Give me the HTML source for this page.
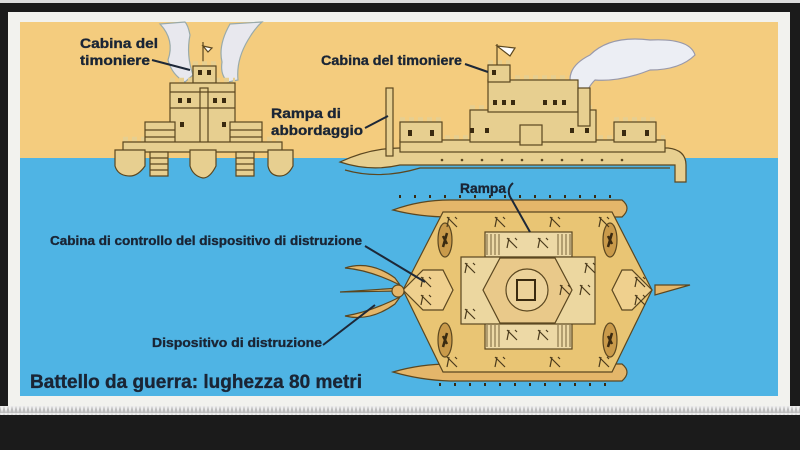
<!DOCTYPE html>
<html><head><meta charset="utf-8"><style>
html,body{margin:0;padding:0;background:#1b1b1b;width:800px;height:450px;overflow:hidden}
svg{display:block}
text{font-family:"Liberation Sans",sans-serif;font-weight:bold;fill:#1a2535;stroke:#1a2535;stroke-width:0.35}
</style></head><body>
<svg width="800" height="450" viewBox="0 0 800 450" xmlns="http://www.w3.org/2000/svg">
<defs>
<pattern id="zz" width="4" height="7" patternUnits="userSpaceOnUse"><rect width="4" height="7" fill="#bbb"/><path d="M0 0L2 7L4 0" fill="#eee"/></pattern>
<g id="cr"><path d="M-5 5 L-3 -5 M-5 -5 L5 5 M3 -5 L5 -3" stroke="#4a3a1c" stroke-width="1.2" fill="none"/></g>
</defs>
<rect x="0" y="0" width="800" height="3" fill="#ddd"/>
<rect x="8" y="12" width="782" height="395" fill="#f2f2ee"/>
<rect x="0" y="406" width="800" height="9" fill="url(#zz)"/>
<rect x="20" y="22" width="758" height="137" fill="#f4cc7e"/>
<rect x="20" y="158" width="758" height="238" fill="#4fb4e4"/>
<g stroke="#5b4720" stroke-width="1.2" fill="#e7cf90">
<path d="M160 24 Q175 40 168 60 Q172 75 185 82 L193 75 Q186 55 190 35 Q188 25 185 22 Z" fill="#e8e8ee" stroke="#9aa"/>
<path d="M230 24 Q218 45 222 62 Q220 75 228 82 L238 80 Q236 60 248 40 Q255 28 262 22 Z" fill="#e8e8ee" stroke="#9aa"/>
<line x1="203" y1="42" x2="203" y2="66"/>
<path d="M203 46 L212 48 L208 52 Z" fill="#fff"/>
<g stroke-width="4.5" stroke="#e7cf90" stroke-dasharray="5 4" fill="none">
<line x1="123" y1="139" x2="282" y2="139"/><line x1="170" y1="80" x2="235" y2="80"/><line x1="193" y1="63.5" x2="216" y2="63.5"/>
<line x1="400" y1="137.5" x2="665" y2="137.5"/><line x1="400" y1="119.5" x2="442" y2="119.5"/><line x1="614" y1="119.5" x2="656" y2="119.5"/>
<line x1="470" y1="107.5" x2="596" y2="107.5"/><line x1="488" y1="77.5" x2="578" y2="77.5"/><line x1="488" y1="62.5" x2="510" y2="62.5"/>
</g>
<rect x="193" y="66" width="23" height="17"/>
<rect x="170" y="83" width="65" height="62"/>
<rect x="200" y="88" width="8" height="82"/>
<rect x="145" y="122" width="30" height="22"/>
<rect x="230" y="122" width="32" height="22"/>
<path d="M123 142 H282 V152 H123 Z"/>
<path d="M115 150 H145 V166 Q138 176 130 176 Q118 176 115 166 Z M190 150 H216 V166 Q210 178 203 178 Q193 176 190 166 Z M268 150 H293 V166 Q288 176 280 176 Q270 176 268 166 Z"/>
<path d="M150 152 H168 V176 H150 Z M236 152 H254 V176 H236 Z"/>
<path d="M150 158 H168 M150 164 H168 M150 170 H168 M236 158 H254 M236 164 H254 M236 170 H254" fill="none"/>
<path d="M170 108 H235 M170 92 H235 M145 130 H175 M145 137 H175 M230 130 H262 M230 137 H262" fill="none"/>
<g fill="#3a2a10" stroke="none"><rect x="198" y="70" width="4" height="5"/><rect x="207" y="70" width="4" height="5"/><rect x="178" y="98" width="4" height="5"/><rect x="187" y="98" width="4" height="5"/><rect x="213" y="98" width="4" height="5"/><rect x="222" y="98" width="4" height="5"/><rect x="180" y="122" width="4" height="5"/><rect x="222" y="122" width="4" height="5"/></g>
<path d="M575 95 Q560 70 590 55 Q610 35 650 40 Q690 38 695 55 Q680 70 650 70 Q620 82 595 80 Q585 90 588 98 Z" fill="#eceef4" stroke="#99a"/>
<line x1="497" y1="44" x2="497" y2="66"/>
<path d="M497 46 L515 48 L510 56 Z" fill="#fff"/>
<path d="M340 162 Q370 148 400 148 H668 Q686 150 686 165 V182 H675 V165 H400 Q370 172 340 162 Z"/>
<path d="M345 170 Q380 180 420 168 H670" fill="none"/>
<rect x="386" y="88" width="7" height="68"/>
<rect x="400" y="140" width="265" height="12"/>
<rect x="400" y="122" width="42" height="20"/><rect x="614" y="122" width="42" height="20"/>
<rect x="470" y="110" width="126" height="32"/>
<rect x="488" y="80" width="90" height="32"/>
<rect x="488" y="65" width="22" height="17"/>
<rect x="578" y="88" width="12" height="38"/>
<rect x="520" y="125" width="22" height="20"/>
<g fill="#3a2a10" stroke="none"><rect x="492" y="70" width="4" height="5"/><rect x="493" y="100" width="4" height="5"/><rect x="502" y="100" width="4" height="5"/><rect x="511" y="100" width="4" height="5"/><rect x="543" y="100" width="4" height="5"/><rect x="553" y="100" width="4" height="5"/><rect x="562" y="100" width="4" height="5"/><rect x="470" y="128" width="4" height="5"/><rect x="485" y="128" width="4" height="5"/><rect x="570" y="128" width="4" height="5"/><rect x="585" y="128" width="4" height="5"/><rect x="408" y="130" width="4" height="6"/><rect x="430" y="130" width="4" height="6"/><rect x="622" y="130" width="4" height="6"/><rect x="645" y="130" width="4" height="6"/></g>
<g fill="#5b4720" stroke="none">
<circle cx="442" cy="160" r="1.3"/><circle cx="462" cy="160" r="1.3"/><circle cx="482" cy="160" r="1.3"/><circle cx="502" cy="160" r="1.3"/><circle cx="522" cy="160" r="1.3"/><circle cx="542" cy="160" r="1.3"/><circle cx="562" cy="160" r="1.3"/><circle cx="582" cy="160" r="1.3"/><circle cx="602" cy="160" r="1.3"/><circle cx="622" cy="160" r="1.3"/></g>
<path d="M393 210 Q420 200 450 200 H622 Q632 208 622 217 H450 Q420 217 393 210 Z" fill="#e4b66a"/>
<path d="M393 372 Q420 364 450 364 H622 Q632 372 622 381 H450 Q420 380 393 372 Z" fill="#e4b66a"/>
<path d="M443 212 H612 L652 290 L612 372 H443 L403 290 Z" fill="#e9c574"/>
<path d="M403 290 L423 270 H443 L453 290 L443 310 H423 Z M652 290 L632 270 H622 L612 290 L622 310 H632 Z" fill="#efd08e"/>
<path d="M655 285 H690 L655 295 Z" fill="#e4b66a"/>
<rect x="485" y="232" width="87" height="25" fill="#edd9a6"/>
<rect x="485" y="323" width="87" height="26" fill="#edd9a6"/>
<path d="M487 234 V255 M491 234 V255 M495 234 V255 M499 234 V255 M558 234 V255 M562 234 V255 M566 234 V255 M570 234 V255 M487 325 V347 M491 325 V347 M495 325 V347 M499 325 V347 M558 325 V347 M562 325 V347 M566 325 V347 M570 325 V347" stroke-width="0.8" fill="none"/>
<rect x="461" y="257" width="134" height="67" fill="#ecd7a0"/>
<path d="M500 258 H555 L572 290 L555 323 H500 L483 290 Z" fill="#e9c98a"/>
<circle cx="527" cy="290" r="21" fill="#ecd29a"/>
<rect x="517" y="280" width="18" height="20" fill="none" stroke="#3a2a10" stroke-width="2"/>
<ellipse cx="445" cy="240" rx="7" ry="17" fill="#c99a4a"/><ellipse cx="445" cy="340" rx="7" ry="17" fill="#c99a4a"/>
<ellipse cx="610" cy="240" rx="7" ry="17" fill="#c99a4a"/><ellipse cx="610" cy="340" rx="7" ry="17" fill="#c99a4a"/>
<path d="M400 285 Q370 270 345 268 Q370 260 395 278 Z M400 297 Q370 312 345 316 Q370 322 395 304 Z M400 291 L340 292 L400 288 Z" fill="#e4b66a"/>
<circle cx="398" cy="291" r="6" fill="#e4b66a"/>
</g>
<g stroke="#3a2a10" stroke-width="2">
<path d="M447 233 L443 247 M447 244 L443 236 M447 333 L443 347 M447 344 L443 336 M612 233 L608 247 M612 244 L608 236 M612 333 L608 347 M612 344 L608 336" stroke-width="2.5"/>
<path d="M400 198 V195 M415 198 V195 M430 198 V195 M445 198 V195 M460 198 V195 M475 198 V195 M490 198 V195 M505 198 V195 M520 198 V195 M535 198 V195 M550 198 V195 M565 198 V195 M580 198 V195 M595 198 V195 M610 198 V195"/>
<path d="M440 383 V386 M455 383 V386 M470 383 V386 M485 383 V386 M500 383 V386 M515 383 V386 M530 383 V386 M545 383 V386 M560 383 V386 M575 383 V386 M590 383 V386 M605 383 V386"/>
</g>
<g>
<use href="#cr" x="452" y="222"/><use href="#cr" x="500" y="222"/><use href="#cr" x="555" y="222"/><use href="#cr" x="604" y="222"/>
<use href="#cr" x="512" y="243"/><use href="#cr" x="543" y="243"/><use href="#cr" x="470" y="268"/><use href="#cr" x="590" y="268"/>
<use href="#cr" x="470" y="314"/><use href="#cr" x="512" y="335"/><use href="#cr" x="543" y="335"/><use href="#cr" x="426" y="282"/><use href="#cr" x="426" y="300"/>
<use href="#cr" x="452" y="362"/><use href="#cr" x="500" y="362"/><use href="#cr" x="555" y="362"/><use href="#cr" x="604" y="362"/>
<use href="#cr" x="640" y="282"/><use href="#cr" x="640" y="300"/><use href="#cr" x="565" y="290"/><use href="#cr" x="585" y="290"/>
</g>
<g stroke="#1d2838" stroke-width="2" fill="none">
<path d="M152 60 L190 70"/><path d="M465 64 L488 72"/><path d="M365 128 L388 116"/>
<path d="M513 183 Q505 190 512 200 L530 232"/><path d="M365 246 L425 282"/><path d="M323 345 L375 305"/>
</g>
<text x="80" y="48" font-size="14" textLength="78" lengthAdjust="spacingAndGlyphs">Cabina  del</text>
<text x="80" y="65" font-size="14" textLength="70" lengthAdjust="spacingAndGlyphs">timoniere</text>
<text x="321" y="65" font-size="14" textLength="141" lengthAdjust="spacingAndGlyphs">Cabina del timoniere</text>
<text x="271" y="118" font-size="14" textLength="70" lengthAdjust="spacingAndGlyphs">Rampa  di</text>
<text x="271" y="135" font-size="14" textLength="92" lengthAdjust="spacingAndGlyphs">abbordaggio</text>
<text x="460" y="193" font-size="14" textLength="46" lengthAdjust="spacingAndGlyphs">Rampa</text>
<text x="50" y="245" font-size="13" textLength="312" lengthAdjust="spacingAndGlyphs">Cabina di controllo del dispositivo di distruzione</text>
<text x="152" y="347" font-size="13" textLength="170" lengthAdjust="spacingAndGlyphs">Dispositivo di distruzione</text>
<text x="30" y="388" font-size="19" textLength="332" lengthAdjust="spacingAndGlyphs">Battello da guerra: lughezza 80 metri</text>
</svg>
</body></html>
